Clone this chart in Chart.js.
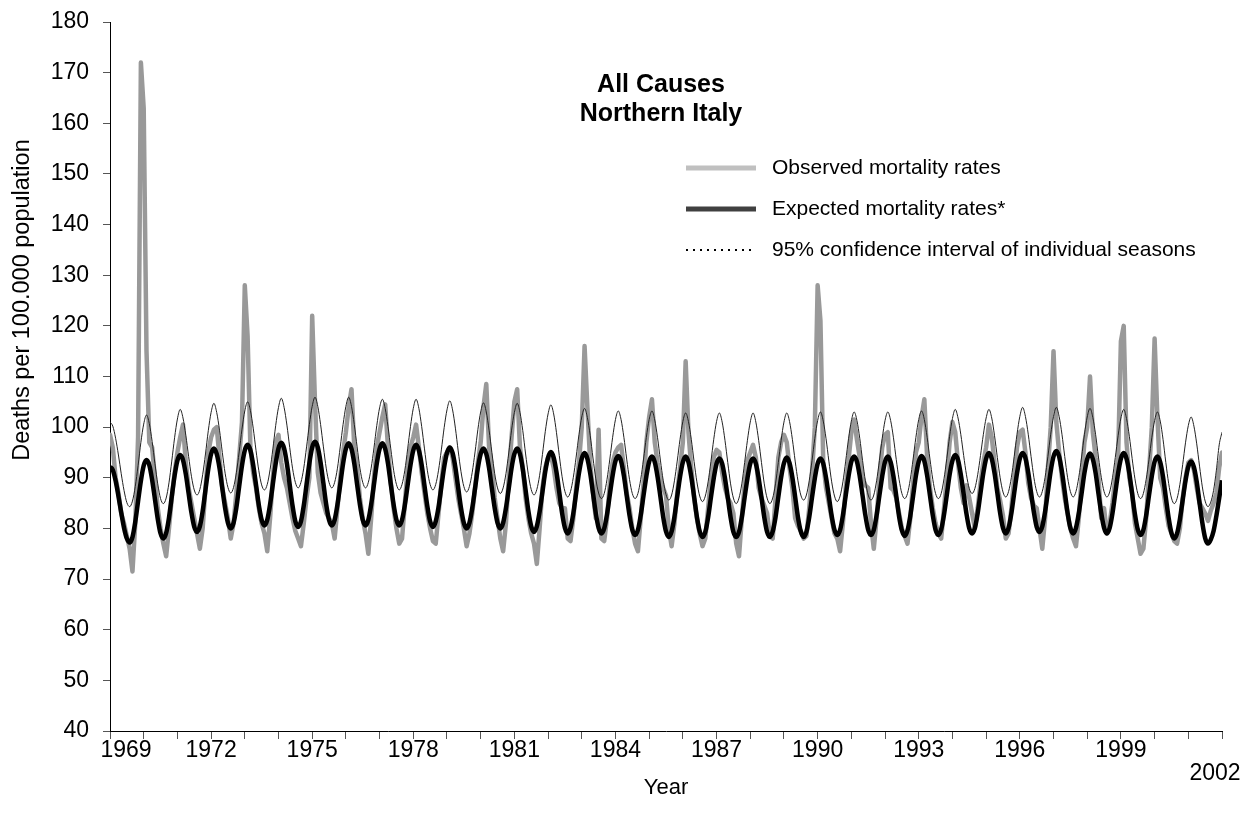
<!DOCTYPE html>
<html>
<head>
<meta charset="utf-8">
<script src="https://cdn.jsdelivr.net/npm/chart.js@4.4.1/dist/chart.umd.min.js"></script>
<style>
  html, body { margin: 0; padding: 0; background: #fff; }
  #wrap { width: 1241px; height: 819px; }
</style>
</head>
<body>
<div id="wrap"><canvas id="chart" width="1241" height="819"></canvas></div>
<script>
// Monthly rates, Jan 1969 .. Jan 2002 (one row per year)
const observed = [
  98.5, 96, 90, 87, 83, 81, 78.5, 76, 71.5, 81, 98, 172,
  163, 115, 97, 96, 90, 84, 80, 77, 74.5, 80, 86, 91,
  95, 98, 100.5, 93, 88, 85, 82, 79, 76, 80, 88, 95,
  98, 99.5, 100, 94, 88, 85, 82, 78, 81, 87, 94, 101,
  128, 118, 96, 91, 88, 84, 81, 79, 75.5, 82, 90, 97,
  98.5, 93, 90, 88, 85, 82, 79.5, 78, 76.5, 81, 86, 90,
  122, 105, 91, 87, 85, 83, 82, 81, 78, 84, 90, 95,
  99, 104, 107.5, 96, 92, 86, 82, 79, 75, 82, 90, 96,
  99, 102, 104.5, 96, 89, 84, 80, 77, 78, 85, 92, 96,
  98, 100.5, 96, 91, 87, 83, 80, 77.5, 77, 83, 89, 94,
  95, 96, 94, 90, 86, 83, 80, 76.5, 79, 83, 88, 93,
  97, 104, 108.5, 96, 92, 86, 82, 78, 75.5, 81, 90, 98,
  105, 107.5, 96, 92, 86, 82, 79, 77, 73, 80, 88, 92,
  94, 94.5, 92, 88, 85, 84, 84, 78, 77.5, 82, 88, 93,
  100, 116, 104, 93, 87, 82, 99.5, 78, 77.5, 82, 89, 93,
  95, 96, 96.5, 92, 87, 84, 80, 77, 75.5, 82, 89, 97,
  102, 105.5, 97, 93, 90, 88, 86.5, 80, 76.5, 81, 87, 92,
  97, 113, 99, 92, 86, 82, 79, 76.5, 78, 84, 90, 94,
  95.5, 95, 91, 88, 86, 85, 83, 77, 74.5, 82, 89, 93.5,
  95, 96.5, 94, 88, 86, 84.5, 83, 78.5, 78, 86, 94, 97,
  98.5, 97, 92, 88, 82, 80.5, 79.5, 78, 78.5, 84, 91, 100,
  128, 121, 93, 88, 85, 82, 79, 78, 75.5, 81, 88, 93.5,
  99, 101.5, 97.5, 94, 90, 88.5, 88, 81, 76, 82, 90, 96,
  98.5, 99, 88, 87.5, 86, 83, 80, 78.5, 77, 82, 89, 95,
  97, 102, 105.5, 94, 88, 84, 81, 79, 78, 84, 90, 97,
  101, 99, 93, 88, 85, 88.5, 86, 83, 80, 84, 89, 93,
  96, 100.5, 98, 93, 88, 85.5, 82.5, 78, 79, 84, 90, 96,
  99, 99.5, 95, 89, 86, 84.5, 84, 80, 76, 82, 92, 100,
  115, 101, 95, 90, 86, 83, 80, 78, 76.5, 82, 90, 97,
  100, 110, 99, 94, 90, 82, 84, 79, 81, 85, 90, 94,
  117, 120, 97, 90, 87, 81, 78, 75, 76, 82, 91, 100,
  117.5, 102, 90, 88, 84, 80.5, 79, 77.5, 77, 80, 86, 90,
  93, 93.5, 91.5, 88, 85, 84, 83, 81.5, 83.5, 85, 87, 92,
  95
];

const expected = [
  92.2, 91.5, 89.4, 86.4, 83.1, 80.1, 78.0, 77.2, 78.3, 81.3, 85.4, 89.4,
  92.4, 93.5, 92.5, 89.6, 85.8, 81.9, 79.0, 78.0, 79.1, 82.1, 86.3, 90.4,
  93.4, 94.5, 93.5, 90.7, 86.9, 83.1, 80.3, 79.3, 80.4, 83.4, 87.6, 91.7,
  94.7, 95.8, 94.7, 91.9, 87.9, 84.0, 81.1, 80.0, 81.1, 84.1, 88.3, 92.4,
  95.4, 96.5, 95.4, 92.5, 88.6, 84.6, 81.7, 80.6, 81.7, 84.7, 88.8, 92.8,
  95.8, 96.9, 95.8, 92.8, 88.6, 84.5, 81.4, 80.3, 81.4, 84.5, 88.7, 92.9,
  96.0, 97.1, 96.0, 93.0, 88.9, 84.7, 81.7, 80.6, 81.7, 84.7, 88.7, 92.8,
  95.7, 96.8, 95.7, 92.8, 88.7, 84.7, 81.7, 80.6, 81.7, 84.7, 88.7, 92.8,
  95.7, 96.8, 95.7, 92.8, 88.7, 84.7, 81.7, 80.6, 81.7, 84.6, 88.6, 92.5,
  95.4, 96.5, 95.4, 92.5, 88.4, 84.4, 81.4, 80.3, 81.4, 84.2, 88.2, 92.1,
  94.9, 96.0, 94.9, 92.0, 88.0, 84.0, 81.1, 80.0, 81.1, 84.0, 87.9, 91.9,
  94.7, 95.8, 94.7, 91.9, 87.9, 84.0, 81.1, 80.0, 81.1, 84.0, 87.9, 91.9,
  94.7, 95.8, 94.7, 91.7, 87.6, 83.4, 80.4, 79.3, 80.4, 83.3, 87.2, 91.2,
  94.0, 95.1, 94.0, 91.1, 87.1, 83.0, 80.1, 79.0, 80.1, 83.0, 87.0, 90.9,
  93.8, 94.9, 93.8, 90.9, 87.0, 83.0, 80.1, 79.0, 80.0, 82.8, 86.7, 90.5,
  93.3, 94.3, 93.3, 90.4, 86.5, 82.6, 79.7, 78.7, 79.7, 82.6, 86.5, 90.3,
  93.2, 94.2, 93.1, 90.2, 86.3, 82.3, 79.4, 78.3, 79.4, 82.3, 86.3, 90.2,
  93.1, 94.2, 93.1, 90.2, 86.3, 82.3, 79.4, 78.3, 79.3, 82.2, 86.1, 89.9,
  92.8, 93.8, 92.8, 89.9, 86.1, 82.2, 79.3, 78.3, 79.3, 82.2, 86.1, 89.9,
  92.8, 93.8, 92.8, 89.9, 86.1, 82.2, 79.3, 78.3, 79.4, 82.2, 86.2, 90.1,
  92.9, 94.0, 92.9, 90.1, 86.2, 82.2, 79.4, 78.3, 79.3, 82.2, 86.1, 89.9,
  92.8, 93.8, 92.8, 90.0, 86.3, 82.5, 79.7, 78.7, 79.7, 82.6, 86.5, 90.3,
  93.2, 94.2, 93.2, 90.3, 86.5, 82.6, 79.7, 78.7, 79.7, 82.6, 86.5, 90.3,
  93.2, 94.2, 93.1, 90.3, 86.4, 82.4, 79.6, 78.5, 79.6, 82.5, 86.4, 90.4,
  93.2, 94.3, 93.3, 90.4, 86.5, 82.6, 79.7, 78.7, 79.8, 82.7, 86.6, 90.6,
  93.4, 94.5, 93.5, 90.6, 86.8, 82.9, 80.0, 79.0, 80.1, 83.0, 87.0, 90.9,
  93.8, 94.9, 93.8, 90.9, 87.0, 83.0, 80.1, 79.0, 80.1, 83.0, 87.0, 90.9,
  93.8, 94.9, 93.9, 91.0, 87.1, 83.2, 80.3, 79.3, 80.4, 83.3, 87.3, 91.3,
  94.2, 95.3, 94.2, 91.2, 87.2, 83.1, 80.1, 79.0, 80.1, 83.0, 86.9, 90.9,
  93.7, 94.8, 93.7, 90.9, 86.9, 83.0, 80.1, 79.0, 80.1, 83.0, 87.0, 90.9,
  93.8, 94.9, 93.8, 90.9, 86.8, 82.8, 79.8, 78.7, 79.7, 82.6, 86.5, 90.3,
  93.2, 94.2, 93.1, 90.2, 86.1, 82.1, 79.1, 78.0, 79.0, 81.8, 85.6, 89.4,
  92.2, 93.2, 92.1, 89.2, 85.1, 81.1, 78.1, 77.0, 77.8, 79.5, 82.5, 86.0,
  89.5
];

const ciUpper = [
  101.0, 100.2, 97.8, 94.5, 90.8, 87.5, 85.1, 84.3, 85.4, 88.3, 92.4, 97.0,
  100.6, 102.4, 100.7, 97.2, 92.8, 88.8, 85.9, 84.9, 86.0, 89.0, 93.3, 97.9,
  101.6, 103.5, 101.8, 98.4, 94.2, 90.3, 87.6, 86.6, 87.7, 90.6, 94.7, 99.3,
  102.9, 104.7, 102.9, 99.4, 95.0, 90.9, 88.1, 87.0, 88.1, 91.0, 95.1, 99.6,
  103.2, 105.0, 103.3, 99.8, 95.4, 91.4, 88.6, 87.6, 88.7, 91.6, 95.7, 100.3,
  103.9, 105.7, 103.9, 100.4, 96.0, 91.9, 89.1, 88.0, 89.1, 91.9, 96.1, 100.5,
  104.1, 105.9, 104.1, 100.5, 96.1, 91.9, 89.1, 88.0, 89.1, 91.9, 96.1, 100.5,
  104.1, 105.9, 104.1, 100.5, 96.1, 91.9, 89.1, 88.0, 89.1, 91.9, 95.9, 100.3,
  103.8, 105.5, 103.7, 100.1, 95.7, 91.5, 88.7, 87.6, 88.7, 91.5, 95.7, 100.1,
  103.7, 105.5, 103.7, 100.1, 95.7, 91.5, 88.7, 87.6, 88.7, 91.5, 95.5, 99.9,
  103.4, 105.2, 103.4, 99.8, 95.3, 91.2, 88.3, 87.2, 88.3, 91.1, 95.1, 99.5,
  103.0, 104.8, 103.0, 99.4, 95.0, 90.8, 88.0, 86.9, 88.0, 90.8, 94.9, 99.4,
  102.9, 104.7, 102.9, 99.3, 94.7, 90.6, 87.7, 86.6, 87.7, 90.5, 94.6, 99.1,
  102.6, 104.4, 102.6, 98.9, 94.4, 90.2, 87.3, 86.2, 87.3, 90.1, 94.1, 98.5,
  102.0, 103.7, 101.9, 98.4, 93.9, 89.8, 87.0, 85.9, 86.9, 89.7, 93.7, 98.0,
  101.5, 103.2, 101.5, 98.0, 93.7, 89.7, 86.9, 85.9, 86.9, 89.7, 93.7, 98.0,
  101.5, 103.2, 101.4, 97.9, 93.5, 89.5, 86.7, 85.6, 86.6, 89.4, 93.3, 97.6,
  101.1, 102.8, 101.1, 97.6, 93.2, 89.2, 86.4, 85.3, 86.4, 89.2, 93.2, 97.6,
  101.1, 102.8, 101.0, 97.4, 93.0, 88.8, 86.0, 84.9, 86.0, 88.8, 93.0, 97.4,
  101.0, 102.8, 101.0, 97.4, 93.0, 88.8, 86.0, 84.9, 86.0, 88.8, 93.0, 97.4,
  101.0, 102.8, 101.1, 97.6, 93.3, 89.4, 86.6, 85.6, 86.6, 89.4, 93.4, 97.8,
  101.3, 103.0, 101.2, 97.7, 93.3, 89.2, 86.4, 85.3, 86.4, 89.2, 93.3, 97.7,
  101.2, 103.0, 101.3, 97.8, 93.4, 89.4, 86.6, 85.6, 86.6, 89.4, 93.4, 97.8,
  101.3, 103.0, 101.3, 97.9, 93.6, 89.7, 86.9, 85.9, 86.9, 89.7, 93.7, 98.0,
  101.5, 103.2, 101.5, 98.0, 93.7, 89.7, 86.9, 85.9, 86.9, 89.8, 93.8, 98.2,
  101.7, 103.5, 101.8, 98.5, 94.4, 90.6, 87.9, 86.9, 87.9, 90.6, 94.4, 98.5,
  101.8, 103.5, 101.8, 98.3, 94.0, 90.0, 87.2, 86.2, 87.3, 90.1, 94.2, 98.6,
  102.1, 103.9, 102.1, 98.6, 94.2, 90.1, 87.3, 86.2, 87.3, 90.1, 94.2, 98.6,
  102.1, 103.9, 102.1, 98.6, 94.2, 90.1, 87.3, 86.2, 87.3, 90.1, 94.1, 98.5,
  102.0, 103.7, 101.9, 98.5, 94.1, 90.1, 87.3, 86.2, 87.2, 90.0, 94.0, 98.3,
  101.8, 103.5, 101.7, 98.2, 93.8, 89.8, 86.9, 85.9, 86.9, 89.7, 93.6, 97.9,
  101.3, 103.0, 101.2, 97.6, 93.0, 88.9, 86.0, 84.9, 85.9, 88.7, 92.6, 96.9,
  100.3, 102.0, 100.2, 96.7, 92.3, 88.2, 85.4, 84.3, 85.2, 87.5, 91.5, 96.5,
  99.0
];

const firstYear = 1969;
const yearLabels = ['1969', '1972', '1975', '1978', '1981', '1984', '1987', '1990', '1993', '1996', '1999', '2002'];
const titleLines = ['All Causes', 'Northern Italy'];
const seriesNames = ['Observed mortality rates', 'Expected mortality rates*', '95% confidence interval of individual seasons'];
const yTitle = 'Deaths per 100.000 population';

const FONT = '"Liberation Sans", Arial, Helvetica, sans-serif';
const lastMonth = observed.length - 1;
const toPoints = arr => arr.map((v, i) => ({ x: i, y: v }));

// title, legend and y title drawn as in the original layout
const overlay = {
  id: 'overlay',
  afterDraw(chart) {
    const ctx = chart.ctx;
    ctx.save();
    ctx.fillStyle = '#000';
    ctx.textBaseline = 'middle';
    ctx.textAlign = 'center';
    ctx.font = 'bold 25px ' + FONT;
    titleLines.forEach((t, i) => ctx.fillText(t, 661, 85 + i * 29));

    const swatches = [
      { color: '#c0c0c0', width: 5, dash: [] },
      { color: '#404040', width: 5, dash: [] },
      { color: '#000', width: 2, dash: [2, 5] }
    ];
    ctx.font = '21px ' + FONT;
    ctx.textAlign = 'left';
    seriesNames.forEach((name, i) => {
      const y = 168 + i * 41;
      const s = swatches[i];
      ctx.beginPath();
      ctx.strokeStyle = s.color;
      ctx.lineWidth = s.width;
      ctx.setLineDash(s.dash);
      ctx.moveTo(686, y);
      ctx.lineTo(756, y);
      ctx.stroke();
      ctx.setLineDash([]);
      ctx.fillText(name, 772, y);
    });

    ctx.translate(23, 300);
    ctx.rotate(-Math.PI / 2);
    ctx.textAlign = 'center';
    ctx.font = '23.5px ' + FONT;
    ctx.fillText(yTitle, 0, 0);
    ctx.restore();
  }
};

new Chart(document.getElementById('chart'), {
  type: 'line',
  data: {
    datasets: [
      {
        label: seriesNames[0],
        data: toPoints(observed),
        borderColor: '#999999',
        borderWidth: 4.5,
        borderJoinStyle: 'round',
        borderCapStyle: 'round',
        tension: 0,
        pointRadius: 0,
        order: 3
      },
      {
        label: seriesNames[1],
        data: toPoints(expected),
        borderColor: '#000',
        borderWidth: 4.5,
        cubicInterpolationMode: 'monotone',
        pointRadius: 0,
        order: 2
      },
      {
        label: seriesNames[2],
        data: toPoints(ciUpper),
        borderColor: '#222',
        borderWidth: 1,
        cubicInterpolationMode: 'monotone',
        pointRadius: 0,
        order: 1
      }
    ]
  },
  options: {
    responsive: false,
    animation: false,
    layout: { padding: { top: 22, right: 19, left: 0, bottom: 0 } },
    plugins: { legend: { display: false }, tooltip: { enabled: false } },
    scales: {
      x: {
        type: 'linear',
        min: 0,
        max: lastMonth,
        position: 'bottom',
        afterBuildTicks: s => {
          s.ticks = [];
          for (let m = 0; m <= lastMonth; m += 12) s.ticks.push({ value: m });
        },
        ticks: { display: false },
        grid: { drawOnChartArea: false, drawTicks: true, tickLength: 8, color: '#555' },
        border: { color: '#000', width: 1 },
        afterFit: s => { s.height = 8; }
      },
      xLabels: {
        type: 'linear',
        min: 0,
        max: lastMonth,
        position: 'bottom',
        afterBuildTicks: s => {
          s.ticks = yearLabels.map(y => {
            let m = (Number(y) - firstYear) * 12;
            if (m === 0) m = 5.7;               // first label pushed inside, like Excel
            if (m >= lastMonth) m = lastMonth - 2.5;
            return { value: m };
          });
        },
        ticks: {
          autoSkip: false,
          maxRotation: 0,
          padding: 0,
          color: '#000',
          font: { family: FONT, size: 23, lineHeight: 1.0 },
          callback: (v, i) => (i === yearLabels.length - 1 ? ['', yearLabels[i]] : yearLabels[i])
        },
        grid: { display: false, drawTicks: false },
        border: { display: false },
        title: {
          display: true,
          text: 'Year',
          color: '#000',
          font: { family: FONT, size: 22 },
          padding: { top: 0, bottom: 18 }
        },
        afterFit: s => { s.height = 80; s.paddingLeft = 0; s.paddingRight = 0; }
      },
      y: {
        min: 40,
        max: 180,
        ticks: {
          stepSize: 10,
          padding: 14,
          color: '#000',
          font: { family: FONT, size: 23 }
        },
        grid: { drawOnChartArea: false, drawTicks: true, tickLength: 7, color: '#555' },
        border: { color: '#000', width: 1 },
        afterFit: s => { s.width = 110; s.paddingTop = 0; s.paddingBottom = 0; }
      }
    }
  },
  plugins: [overlay]
});
</script>
</body>
</html>
